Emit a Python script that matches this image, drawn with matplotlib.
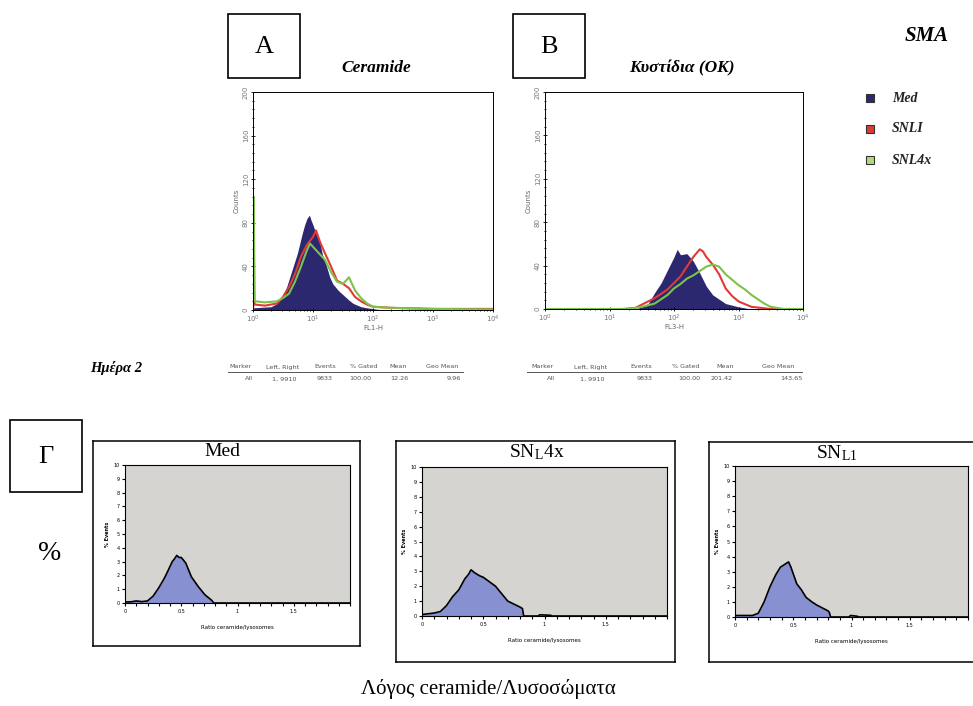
import numpy as np
import matplotlib
matplotlib.use('Agg')
import matplotlib.pyplot as plt
from matplotlib.patches import Rectangle
from matplotlib.lines import Line2D
from matplotlib.ticker import MultipleLocator, FixedLocator, LogLocator, NullFormatter

W, H = 973, 706

# ---- data ----
# panel A, Ceramide (FL1-H), x given as log10 of intensity
a_med_exp = [0.0, 0.3, 0.4, 0.5, 0.56, 0.67, 0.74, 0.78, 0.82, 0.86, 0.9, 0.94, 0.97, 1.0, 1.05, 1.11, 1.16, 1.22, 1.28, 1.33, 1.42, 1.5, 1.6, 1.67, 1.8, 1.9, 2.1, 4.0]
a_med_cnt = [2, 3, 6, 14, 21, 40, 52, 61, 70, 78, 84, 87, 82, 78, 70, 63, 50, 41, 30, 24, 18, 14, 9, 6, 3, 2, 0.5, 0]

a_red_exp = [0.0, 0.01, 0.03, 0.2, 0.4, 0.5, 0.6, 0.7, 0.8, 0.9, 1.0, 1.05, 1.12, 1.2, 1.3, 1.4, 1.5, 1.6, 1.7, 1.8, 1.9, 2.0, 2.3, 3.0, 4.0]
a_red_cnt = [0, 12, 5, 4, 6, 12, 21, 33, 49, 60, 67, 73, 62, 52, 40, 27, 24, 20, 12, 8, 5, 3, 2, 1, 1]

a_grn_exp = [0.0, 0.01, 0.03, 0.2, 0.4, 0.5, 0.6, 0.7, 0.8, 0.9, 0.95, 1.0, 1.1, 1.2, 1.3, 1.4, 1.5, 1.6, 1.7, 1.8, 1.9, 2.0, 2.3, 3.0, 4.0]
a_grn_cnt = [0, 104, 8, 7, 8, 11, 15, 26, 40, 55, 61, 58, 52, 46, 35, 26, 24, 30, 18, 11, 6, 3, 2, 1, 0.5]

# panel B, vesicles (FL3-H)
b_med_exp = [0.0, 1.4, 1.5, 1.6, 1.7, 1.8, 1.9, 2.0, 2.05, 2.1, 2.2, 2.3, 2.4, 2.5, 2.6, 2.7, 2.8, 3.0, 3.2, 4.0]
b_med_cnt = [0, 0, 2, 5, 15, 24, 36, 48, 55, 50, 51, 44, 33, 21, 13, 9, 5, 2, 0, 0]

b_red_exp = [0.0, 1.2, 1.4, 1.5, 1.6, 1.7, 1.8, 1.9, 2.0, 2.1, 2.2, 2.3, 2.4, 2.45, 2.5, 2.6, 2.7, 2.8, 2.9, 3.0, 3.2, 3.5, 4.0]
b_red_cnt = [0, 0, 1, 4, 7, 10, 14, 18, 24, 30, 39, 48, 55, 53, 48, 41, 32, 19, 12, 7, 2, 0, 0]

b_grn_exp = [0.0, 1.3, 1.5, 1.7, 1.8, 1.9, 2.0, 2.1, 2.2, 2.3, 2.4, 2.5, 2.6, 2.7, 2.8, 2.9, 3.0, 3.1, 3.2, 3.3, 3.4, 3.5, 3.7, 4.0]
b_grn_cnt = [0, 0, 2, 5, 9, 13, 19, 23, 28, 31, 35, 39, 41, 39, 32, 27, 22, 18, 13, 9, 5, 2, 0, 0]

# panel Γ, ratio ceramide/lysosomes (% events)
med_x = [0, 0.05, 0.1, 0.15, 0.2, 0.25, 0.3, 0.35, 0.38, 0.42, 0.44, 0.46, 0.48, 0.5, 0.54, 0.59, 0.65, 0.71, 0.77, 0.78, 0.79, 2.0]
med_y = [0.08, 0.08, 0.15, 0.1, 0.15, 0.5, 1.1, 1.8, 2.3, 3.0, 3.2, 3.45, 3.3, 3.3, 2.9, 1.9, 1.2, 0.6, 0.2, 0.1, 0, 0]

l4x_x = [0, 0.05, 0.1, 0.15, 0.2, 0.25, 0.3, 0.35, 0.38, 0.4, 0.43, 0.47, 0.5, 0.55, 0.6, 0.65, 0.7, 0.75, 0.8, 0.82, 0.83, 0.95, 0.96, 1.05, 1.06, 2.0]
l4x_y = [0.1, 0.15, 0.2, 0.3, 0.7, 1.3, 1.75, 2.5, 2.8, 3.1, 2.9, 2.7, 2.6, 2.3, 2.0, 1.5, 1.0, 0.8, 0.6, 0.5, 0, 0, 0.08, 0.05, 0, 0]

l1_x = [0, 0.05, 0.1, 0.15, 0.2, 0.25, 0.3, 0.35, 0.39, 0.43, 0.46, 0.48, 0.53, 0.57, 0.61, 0.66, 0.7, 0.75, 0.8, 0.81, 0.82, 0.98, 0.99, 1.05, 1.06, 2.0]
l1_y = [0.1, 0.1, 0.1, 0.1, 0.25, 1.0, 2.0, 2.8, 3.3, 3.5, 3.65, 3.3, 2.2, 1.8, 1.3, 1.0, 0.8, 0.6, 0.4, 0.3, 0, 0, 0.1, 0.05, 0, 0]

legend_names = ['Med', 'SNLI', 'SNL4x']
table_head = ['Marker', 'Left, Right', 'Events', '% Gated', 'Mean', 'Geo Mean']
table_a = ['All', '1, 9910', '9833', '100.00', '12.26', '9.96']
table_b = ['All', '1, 9910', '9833', '100.00', '201.42', '143.65']

NAVY = '#2b2870'
RED = '#e03a35'
GREEN = '#7cc24a'
SERIF = 'Liberation Serif'

plt.rcParams['font.family'] = ['DejaVu Sans']
plt.rcParams['mathtext.fontset'] = 'stix'


def box(l, t, r, b):
    return [l / W, 1 - b / H, (r - l) / W, (b - t) / H]


def ftext(x, y, s, **kw):
    fig.text(x / W, 1 - y / H, s, **kw)


def hline(x0, x1, y, **kw):
    fig.add_artist(Line2D([x0 / W, x1 / W], [1 - y / H, 1 - y / H], **kw))


def letter_box(l, t, r, b, s):
    fig.add_artist(Rectangle((l / W, 1 - b / H), (r - l) / W, (b - t) / H,
                             fill=False, lw=1.2, ec='black'))
    ftext((l + r) / 2, (t + b) / 2 + 1, s, family=SERIF, fontsize=19,
          ha='center', va='center')


def flow_panel(rect, med, red, grn, xlab):
    ax = fig.add_axes(box(*rect))
    ax.fill_between(np.power(10.0, med[0]), med[1], color=NAVY, lw=0)
    ax.plot(np.power(10.0, red[0]), red[1], color=RED, lw=1.5)
    ax.plot(np.power(10.0, grn[0]), grn[1], color=GREEN, lw=1.5)
    ax.set_xscale('log')
    ax.set_xlim(1, 1e4)
    ax.set_ylim(0, 200)
    ax.xaxis.set_major_locator(LogLocator(base=10, numticks=6))
    ax.xaxis.set_minor_locator(LogLocator(base=10, subs=np.arange(2, 10), numticks=20))
    ax.xaxis.set_minor_formatter(NullFormatter())
    ax.yaxis.set_major_locator(MultipleLocator(40))
    ax.yaxis.set_minor_locator(MultipleLocator(8))
    ax.tick_params(which='both', direction='inout', labelsize=5, labelcolor='#777777',
                   width=0.6, length=3, pad=1.5)
    ax.tick_params(which='minor', length=2)
    ax.tick_params(axis='y', labelrotation=90)
    for lab in ax.get_yticklabels():
        lab.set_va('center')
    for s in ax.spines.values():
        s.set_linewidth(0.7)
    ax.set_xlabel(xlab, fontsize=5, color='#666666', labelpad=0)
    ax.set_ylabel('Counts', fontsize=5, color='#666666', labelpad=2)
    return ax


def stats_table(x_head, x_row, y, left, right, values):
    for s, x in zip(table_head, x_head):
        ftext(x, y, s, fontsize=4.6, color='#555555', ha='center', va='center')
    hline(left, right, y + 5, color='#555555', lw=0.7)
    for s, x in zip(values, x_row):
        ftext(x, y + 12, s, fontsize=4.6, color='#555555', ha='right', va='center')


def ratio_panel(frame, inner, xs, ys, title_parts, title_xy):
    fr = fig.add_axes(box(*frame))
    fr.set_xticks([])
    fr.set_yticks([])
    for s in fr.spines.values():
        s.set_linewidth(1.1)
    ax = fig.add_axes(box(*inner))
    ax.set_facecolor('#d6d4d1')
    ax.fill_between(xs, ys, color='#8790d0', lw=0)
    ax.plot(xs, ys, color='black', lw=1.2)
    ax.set_xlim(0, 2)
    ax.set_ylim(0, 10)
    ax.xaxis.set_major_locator(FixedLocator([0, 0.5, 1, 1.5]))
    ax.set_xticklabels(['0', '0.5', '1', '1.5'])
    ax.xaxis.set_minor_locator(MultipleLocator(0.1))
    ax.yaxis.set_major_locator(MultipleLocator(1))
    ax.tick_params(which='both', direction='out', labelsize=3.5, width=0.8, length=2, pad=2)
    for s in ax.spines.values():
        s.set_linewidth(0.8)
    ax.set_xlabel('Ratio ceramide/lysosomes', fontsize=4, labelpad=8)
    ax.set_ylabel('% Events', fontsize=3.5, labelpad=2, fontweight='bold')
    ftext(title_xy[0], title_xy[1], title_parts, family=SERIF, fontsize=14,
          ha='center', va='center')


fig = plt.figure(figsize=(W / 100, H / 100), dpi=100)
fig.patch.set_facecolor('white')

# ---- top row: flow cytometry histograms ----
flow_panel((253, 92, 493, 310), (a_med_exp, a_med_cnt), (a_red_exp, a_red_cnt),
           (a_grn_exp, a_grn_cnt), 'FL1-H')
flow_panel((545, 92, 803, 309), (b_med_exp, b_med_cnt), (b_red_exp, b_red_cnt),
           (b_grn_exp, b_grn_cnt), 'FL3-H')

letter_box(228, 14, 300, 78, 'A')
letter_box(513, 14, 585, 78, 'B')
ftext(376, 68, 'Ceramide', family=SERIF, fontsize=12.5, fontweight='bold',
      style='italic', ha='center', va='center')
ftext(682, 68, 'Κυστίδια (OK)', family=SERIF, fontsize=12.5, fontweight='bold',
      style='italic', ha='center', va='center')

ftext(927, 36, 'SMA', family=SERIF, fontsize=15, fontweight='bold', style='italic',
      ha='center', va='center')
for name, col, yy in zip(legend_names, [NAVY, RED, '#b5d97a'], [98, 129, 160]):
    fig.add_artist(Rectangle(((866) / W, 1 - (yy + 4) / H), 8 / W, 8 / H,
                             fc=col, ec='#333333', lw=0.8))
    ftext(892, yy, name, family=SERIF, fontsize=10, fontweight='bold', style='italic',
          ha='left', va='center', color='#222222')

ftext(90, 368, 'Ημέρα 2', family=SERIF, fontsize=10.5, fontweight='bold',
      style='italic', ha='left', va='center')

stats_table([241, 283, 325, 364, 398, 442], [253, 296, 333, 371, 408, 461], 367, 228, 463, table_a)
stats_table([543, 591, 641, 686, 725, 778], [555, 605, 653, 700, 733, 802], 367, 527, 802, table_b)

# ---- bottom row: ratio histograms ----
letter_box(10, 420, 82, 492, 'Γ')
ftext(50, 553, '%', family=SERIF, fontsize=20, ha='center', va='center')

ratio_panel((93, 441, 360, 646), (125, 465, 350, 603), med_x, med_y, 'Med', (222, 452))
ratio_panel((396, 441, 675, 662), (422, 467, 667, 616), l4x_x, l4x_y,
            r'SN$_\mathregular{L}$4x', (537, 452))
ratio_panel((709, 442, 985, 662), (735, 466, 968, 617), l1_x, l1_y,
            r'SN$_\mathregular{L1}$', (837, 453))

ftext(488, 689, 'Λόγος ceramide/Λυσοσώματα', family=SERIF, fontsize=15,
      ha='center', va='center')

fig.savefig('out.png', dpi=100)
